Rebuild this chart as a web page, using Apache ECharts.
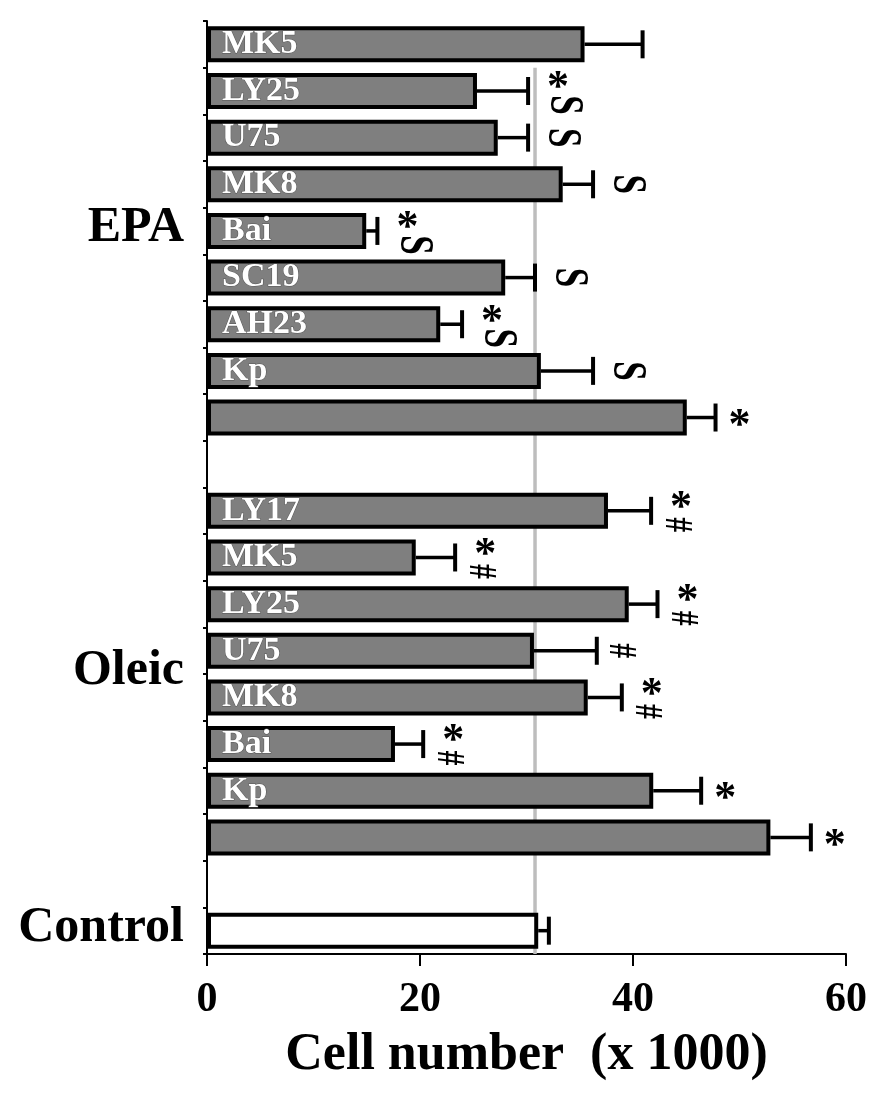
<!DOCTYPE html>
<html lang="en">
<head>
    <meta charset="UTF-8">
    <title>Cell number</title>
    <style type="text/css">
        html,body{margin:0;padding:0;background:#fff;}
        #main{width:882px;height:1110px;}
    </style>
</head>
<body>
<div id="main"></div>
<script src="https://cdn.jsdelivr.net/npm/echarts@6/dist/echarts.min.js"></script>
<script>
    // rows from top to bottom, blank rows are the gaps between groups
    var barLabels = ['MK5', 'LY25', 'U75', 'MK8', 'Bai', 'SC19', 'AH23', 'Kp', '', '',
                     'LY17', 'MK5', 'LY25', 'U75', 'MK8', 'Bai', 'Kp', '', '', ''];
    var means  = [35.45, 25.35, 27.3, 33.4, 14.95, 28.0, 21.9, 31.35, 45.05, null,
                  37.65, 19.6, 39.6, 30.7, 35.75, 17.65, 41.9, 52.9, null, 31.1];
    var errors = [5.45, 4.8, 2.85, 2.85, 1.05, 2.8, 2.05, 4.9, 2.7, null,
                  4.05, 3.7, 2.7, 5.9, 3.2, 2.65, 4.5, 3.8, null, 1.0];
    var marks  = ['', '*S', 'S', 'S', '*S', 'S', '*S', 'S', '*', '',
                  '*#', '*#', '*#', '#', '*#', '*#', '*', '*', '', ''];
    var controlRow = 19;

    var groupNames = ['EPA', 'Oleic', 'Control'];
    var groupFrom  = [0, 10, 19];
    var groupTo    = [8, 17, 19];

    var xTicks = [0, 20, 40, 60];
    var controlLine = 30.8;   // grey reference line
    var lineFrom = 1, lineTo = 19;

    var serif = '"Liberation Serif", "Times New Roman", serif';
    var cats = barLabels.map(function (d, i) { return 'r' + i; });

    var barData = means.map(function (v, i) {
        if (v == null) return '-';
        if (i === controlRow) return {value: v, itemStyle: {color: '#fff'}};
        return v;
    });

    var errData = [];
    means.forEach(function (v, i) {
        if (v != null) errData.push([v, i, errors[i]]);
    });

    var groupData = groupNames.map(function (n, i) { return [0, groupFrom[i], groupTo[i]]; });

    function markText(ch, x, y) {
        var el = {type: 'text', x: x, y: y, z2: 10,
            style: {text: ch, fill: '#000', textAlign: 'center', textVerticalAlign: 'middle'}};
        if (ch === '*') {
            el.y = y + 9;
            el.style.font = 'bold 44px ' + serif;
        } else if (ch === 'S') {
            el.rotation = -Math.PI / 2;
            el.scaleY = 1.4;
            el.style.font = 'bold 35px ' + serif;
        } else {
            el.rotation = -Math.PI / 2;
            el.scaleX = 0.75;
            el.style.font = 'bold 40px ' + serif;
        }
        return el;
    }

    var myChart = echarts.init(document.getElementById('main'));
    var option = {
        backgroundColor: '#fff',
        animation: false,
        grid: {left: 207, right: 36, top: 21, bottom: 156},
        xAxis: {
            type: 'value',
            min: xTicks[0],
            max: xTicks[xTicks.length - 1],
            interval: xTicks[1] - xTicks[0],
            splitLine: {show: false},
            axisLine: {show: true, lineStyle: {color: '#000', width: 2}},
            axisTick: {show: true, length: 12, lineStyle: {color: '#000', width: 2}},
            axisLabel: {color: '#000', fontSize: 42, fontWeight: 'bold', fontFamily: serif, margin: 25},
            name: 'Cell number  (x 1000)',
            nameLocation: 'middle',
            nameGap: 76,
            nameTextStyle: {color: '#000', fontSize: 52, fontWeight: 'bold', fontFamily: serif}
        },
        yAxis: {
            type: 'category',
            inverse: true,
            data: cats,
            axisLine: {show: true, lineStyle: {color: '#000', width: 2}},
            axisTick: {show: true, length: 4, lineStyle: {color: '#000', width: 2}},
            axisLabel: {show: false},
            splitLine: {show: false}
        },
        series: [
            {
                // reference line at control level
                type: 'custom',
                z: 1,
                data: [[controlLine, lineFrom, lineTo]],
                renderItem: function (params, api) {
                    var half = api.size([0, 1])[1] / 2;
                    var a = api.coord([api.value(0), api.value(1)]);
                    var b = api.coord([api.value(0), api.value(2)]);
                    return {type: 'line', shape: {x1: a[0], y1: a[1] - half, x2: b[0], y2: b[1] + half},
                        style: {stroke: '#bdbdbd', lineWidth: 3.5}};
                }
            },
            {
                type: 'bar',
                z: 2,
                data: barData,
                barWidth: 36,
                itemStyle: {color: '#7f7f7f', borderColor: '#000', borderWidth: 4},
                label: {
                    show: true,
                    position: 'insideLeft',
                    distance: 15,
                    formatter: function (p) { return barLabels[p.dataIndex]; },
                    color: '#fff',
                    fontSize: 34,
                    fontWeight: 'bold',
                    fontFamily: serif,
                    textBorderColor: '#555',
                    textBorderWidth: 1
                }
            },
            {
                // error bars and significance marks
                type: 'custom',
                z: 3,
                data: errData,
                renderItem: function (params, api) {
                    var row = api.value(1);
                    var p0 = api.coord([api.value(0), row]);
                    var p1 = api.coord([api.value(0) + api.value(2), row]);
                    var kids = [
                        {type: 'line', shape: {x1: p0[0], y1: p0[1], x2: p1[0], y2: p1[1]},
                            style: {stroke: '#000', lineWidth: 3.5}},
                        {type: 'line', shape: {x1: p1[0], y1: p1[1] - 14, x2: p1[0], y2: p1[1] + 14},
                            style: {stroke: '#000', lineWidth: 4}}
                    ];
                    var m = marks[row];
                    if (m.length === 2) {
                        kids.push(markText(m[0], p1[0] + 30, p1[1] - 11));
                        kids.push(markText(m[1], p1[0] + (m[1] === 'S' ? 36 : 25), p1[1] + 14));
                    } else if (m.length === 1) {
                        kids.push(markText(m, p1[0] + (m === 'S' ? 34 : 24), p1[1]));
                    }
                    return {type: 'group', children: kids};
                }
            },
            {
                // group names left of the axis
                type: 'custom',
                z: 3,
                data: groupData,
                renderItem: function (params, api) {
                    var a = api.coord([0, api.value(1)]);
                    var b = api.coord([0, api.value(2)]);
                    return {type: 'text', x: a[0] - 23, y: (a[1] + b[1]) / 2 - 3,
                        style: {text: groupNames[params.dataIndex], fill: '#000',
                            font: 'bold 50px ' + serif, textAlign: 'right', textVerticalAlign: 'middle'}};
                }
            }
        ]
    };
    myChart.setOption(option);
</script>
</body>
</html>
